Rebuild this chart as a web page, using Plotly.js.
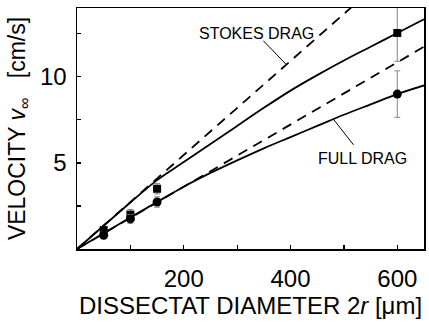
<!DOCTYPE html>
<html><head><meta charset="utf-8">
<script src="https://cdn.plot.ly/plotly-3.0.1.min.js"></script>
<style>html,body{margin:0;padding:0;background:#fff}#chart{width:429px;height:324px}</style>
</head><body><div id="chart"></div>
<script>
// Model curves (diameter in µm, velocity in cm/s)
const curveX = [0,50,100,150,200,250,300,350,400,450,500,550,600,650];
const fullSolidUpper = [0,1.35,2.7,4.0,5.05,6.1,7.15,8.2,9.2,10.1,10.95,11.75,12.55,13.35];
const fullSolidLower = [0,0.92,1.83,2.73,3.62,4.42,5.15,5.85,6.5,7.15,7.8,8.4,9.0,9.5];
const stokesUpperX = [0,540];
const stokesUpperY = [0,14.75];
const stokesLowerX = [0,650];
const stokesLowerY = [0,11.75];
// Measured points
const ptX = [50,100,150,600];
const squaresY = [1.1,2.0,3.5,12.55];
const squaresErr = [0.2,0.3,0.3,1.65];
const circlesY = [0.8,1.75,2.73,9.0];
const circlesErr = [0.2,0.25,0.3,1.35];
const xTickVals = [200,400,600];
const xMinorVals = [100,300,500];
const yTickVals = [5,10];
const yMinorVals = [2.5,7.5,12.5];

const dashStyle = {color:'#000', width:1.8, dash:'10px,7px'};
const errStyle = {color:'#888', thickness:1, width:3};

const traces = [
  {x:stokesUpperX, y:stokesUpperY, mode:'lines', line:dashStyle},
  {x:stokesLowerX, y:stokesLowerY, mode:'lines', line:dashStyle},
  {x:curveX, y:fullSolidUpper, mode:'lines', line:{color:'#000',width:1.8,shape:'spline'}},
  {x:curveX, y:fullSolidLower, mode:'lines', line:{color:'#000',width:1.8,shape:'spline'}},
  {x:ptX, y:squaresY, mode:'markers', marker:{symbol:'square', size:8, color:'#000'},
   error_y:Object.assign({type:'data', array:squaresErr, visible:true}, errStyle)},
  {x:ptX, y:circlesY, mode:'markers', marker:{symbol:'circle', size:9, color:'#000'},
   error_y:Object.assign({type:'data', array:circlesErr, visible:true}, errStyle)}
];

const font = {family:'"Liberation Sans", Arial, sans-serif', color:'#000'};
const layout = {
  width:429, height:324,
  margin:{l:77, r:5, t:8, b:75},
  showlegend:false,
  paper_bgcolor:'#fff', plot_bgcolor:'#fff',
  font:font,
  xaxis:{
    range:[0,650], showgrid:false, zeroline:false,
    showline:true, linecolor:'#000', linewidth:1.5, mirror:true,
    tickmode:'array', tickvals:xTickVals, ticks:'inside', ticklen:4, tickwidth:1.2, tickcolor:'#000',
    minor:{tickmode:'array', tickvals:xMinorVals, ticks:'inside', ticklen:4, tickwidth:1.2, tickcolor:'#000'},
    tickfont:{family:font.family, size:24, color:'#000'},
    ticklabelstandoff:8,
    title:{text:'DISSECTAT DIAMETER 2<i>r</i> [μm]', font:{family:font.family, size:24, color:'#000'}, standoff:2}
  },
  yaxis:{
    range:[0,14], showgrid:false, zeroline:false,
    showline:true, linecolor:'#000', linewidth:1.5, mirror:true,
    tickmode:'array', tickvals:yTickVals, ticks:'inside', ticklen:4, tickwidth:1.2, tickcolor:'#000',
    minor:{tickmode:'array', tickvals:yMinorVals, ticks:'inside', ticklen:4, tickwidth:1.2, tickcolor:'#000'},
    tickfont:{family:font.family, size:24, color:'#000'},
    ticklabelstandoff:4,
    title:{text:'VELOCITY <i>v</i><sub>∞</sub>\u00a0\u00a0\u00a0[cm/s]', font:{family:font.family, size:23, color:'#000'}, standoff:8}
  },
  annotations:[
    {x:336, y:12.5, xref:'x', yref:'y', text:'STOKES DRAG', showarrow:false, font:{family:font.family, size:16, color:'#000'}},
    {x:535, y:5.23, xref:'x', yref:'y', text:'FULL DRAG', showarrow:false, font:{family:font.family, size:16, color:'#000'}}
  ],
  shapes:[
    {type:'line', xref:'x', yref:'y', x0:349, y0:12.1, x1:391, y1:10.75, line:{color:'#000', width:1}},
    {type:'line', xref:'x', yref:'y', x0:480, y0:7.55, x1:518, y1:6.05, line:{color:'#000', width:1}}
  ]
};
Plotly.newPlot('chart', traces, layout, {displayModeBar:false, staticPlot:true});
</script></body></html>
